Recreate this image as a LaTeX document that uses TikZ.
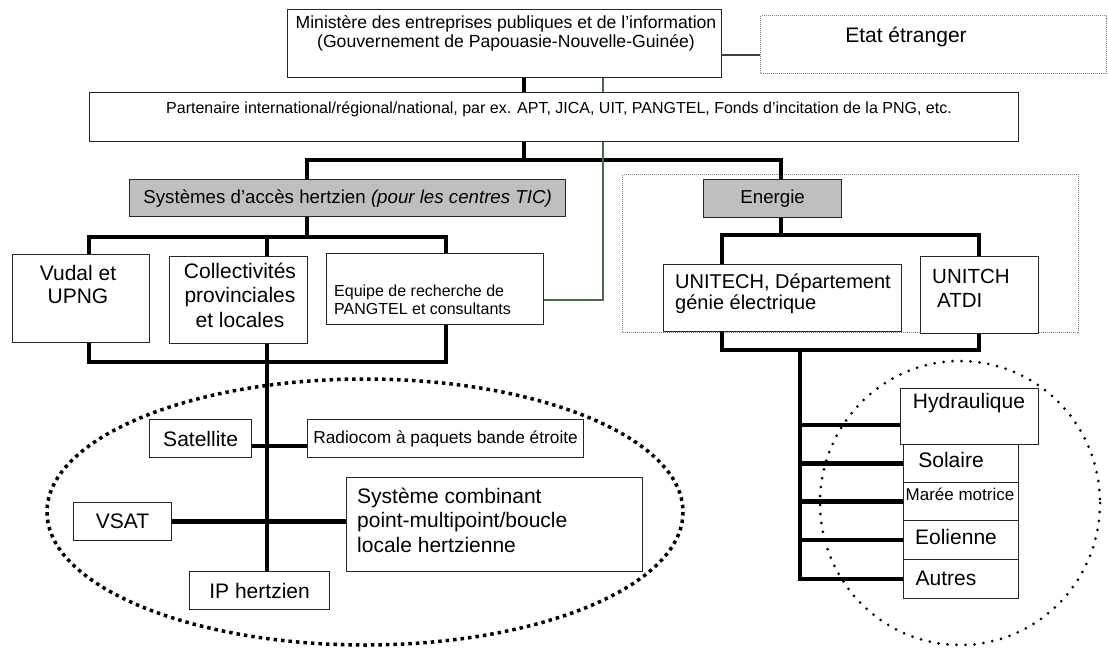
\documentclass[tikz,border=0pt]{standalone}
\usepackage{fontspec}
\setmainfont{Liberation Sans}
\usetikzlibrary{calc}

\definecolor{infogreen}{RGB}{70,110,70}
\newcommand{\fs}[2]{\fontsize{#1}{#2}\selectfont}

\begin{document}
\begin{tikzpicture}[x=1pt, y=-1pt,
    box/.style={draw=black!85, fill=white, line width=1.2pt, anchor=north west, inner sep=0pt, font=\fs{21}{24}},
    greybox/.style={box, fill=black!25, font=\fs{18.7}{22}},
    zone/.style={draw=black!50, line width=1pt, densely dotted, anchor=north west, inner sep=0pt},
    txt/.style={inner sep=0pt, anchor=base, font=\fs{21}{24}},
    trunk/.style={line width=4.5pt},
    link/.style={draw=black!75, line width=1.3pt},
    info/.style={draw=infogreen, line width=1.2pt},
    squaredots/.style={line width=3.5pt, dash pattern=on 3.5pt off 4pt},
    rounddots/.style={line width=3pt, line cap=round, dash pattern=on 0pt off 9pt}]

    \useasboundingbox (0,0) rectangle (1108,648);

    % zones
    \node[zone, minimum width=456, minimum height=158] (zone) at (622,174) {};
    \draw[squaredots] (365,512) ellipse [x radius=318, y radius=133];
    \draw[rounddots] (960,503) ellipse [x radius=140, y radius=142];

    % boxes
    \node[box, minimum width=434, minimum height=68] (ministere) at (287,9) {};
    \node[box, draw=black!50, line width=1pt, densely dotted, minimum width=346, minimum height=58] (etat) at (760,15) {};
    \node[box, minimum width=929, minimum height=49] (partenaire) at (89,92) {};
    \node[greybox, minimum width=436, minimum height=37] (systemes) at (129,179) {Systèmes d’accès hertzien \textit{(pour les centres TIC)}};
    \node[greybox, minimum width=138, minimum height=38] (energie) at (703,179) {Energie};

    \node[box, minimum width=137, minimum height=88] (vudal) at (12,254) {};
    \node[box, minimum width=138, minimum height=87] (collectivites) at (169,256) {};
    \node[box, minimum width=217, minimum height=71] (equipe) at (326,253) {};
    \node[box, minimum width=238, minimum height=67] (unitech) at (663,264) {};
    \node[box, minimum width=118, minimum height=77] (atdi) at (920,256) {};

    \node[box, minimum width=102, minimum height=38] (satellite) at (149,419) {Satellite};
    \node[box, minimum width=276, minimum height=38, font=\fs{17.3}{20}] (radiocom) at (307,419) {Radiocom à paquets bande étroite};
    \node[box, minimum width=98, minimum height=38] (vsat) at (73,502) {VSAT};
    \node[box, minimum width=296, minimum height=94] (combinant) at (346,477) {};
    \node[box, minimum width=140, minimum height=38] (iphertzien) at (189,571) {IP hertzien};

    \node[box, minimum width=138, minimum height=56] (hydraulique) at (900,388) {};
    \node[box, minimum width=115, minimum height=38] (solaire) at (903,444) {};
    \node[box, minimum width=115, minimum height=38] (maree) at (903,482) {};
    \node[box, minimum width=115, minimum height=39] (eolienne) at (903,520) {};
    \node[box, minimum width=115, minimum height=39] (autres) at (903,559) {};

    % texts (multi-line: base = last line)
    \node[txt, align=center, font=\fs{17.6}{19}] (ministere-t) at (506,47) {Ministère des entreprises publiques et de l’information\\(Gouvernement de Papouasie-Nouvelle-Guinée)};
    \node[txt] (etat-t) at (906,42) {Etat étranger};
    \node[txt, font=\fs{16}{18}] (partenaire-t) at (559,113) {Partenaire international/régional/national, par ex. APT, JICA, UIT, PANGTEL, Fonds d’incitation de la PNG, etc.};
    \node[txt, align=center, font=\fs{21}{23}] (vudal-t) at (78,303) {Vudal et\\UPNG};
    \node[txt, align=center, font=\fs{21}{24.5}] (collectivites-t) at (240,327) {Collectivités\\provinciales\\et locales};
    \node[txt, anchor=base west, align=left, font=\fs{16}{18}] (equipe-t) at (334,314) {Equipe de recherche de\\PANGTEL et consultants};
    \node[txt, anchor=base west, align=left, font=\fs{20}{21}] (unitech-t) at (675,309) {UNITECH, Département\\génie électrique};
    \node[txt, anchor=base west, align=left, font=\fs{20.5}{24}] (atdi-t) at (932,307) {UNITCH\\\hspace*{5pt}ATDI};
    \node[txt, anchor=base west, align=left, font=\fs{21}{24.5}] (combinant-t) at (357,552) {Système combinant\\point-multipoint/boucle\\locale hertzienne};
    \node[txt] (hydraulique-t) at (969,408) {Hydraulique};
    \node[txt] (solaire-t) at (951,467) {Solaire};
    \node[txt, font=\fs{17}{20}] (maree-t) at (960,500) {Marée motrice};
    \node[txt] (eolienne-t) at (956,544) {Eolienne};
    \node[txt] (autres-t) at (946,585) {Autres};

    % connectors, top
    \coordinate (me) at (740,55);
    \coordinate (mp) at (524,160);
    \coordinate (g) at (603,300);
    \coordinate (bl) at (307,160);
    \coordinate (br) at (781,160);
    \draw[link] (ministere.east |- me) -- (etat.west |- me);
    \draw[trunk] (ministere.south -| mp) -- (partenaire.north -| mp);
    \draw[trunk] (partenaire.south -| mp) -- (mp);
    \draw[trunk] (systemes.north -| bl) -- (bl) -- (br) -- (energie.north -| br);
    \draw[info] (ministere.south -| g) -- (partenaire.north -| g);
    \draw[info] (partenaire.south -| g) -- (g) -- (equipe.east |- g);

    % connectors, left
    \coordinate (sl) at (89,237);
    \coordinate (sr) at (446,237);
    \coordinate (t) at (267,237);
    \coordinate (bll) at (89,362);
    \coordinate (blr) at (446,362);
    \coordinate (sat) at (267,446);
    \draw[trunk] (systemes.south -| bl) -- (bl |- sl);
    \draw[trunk] (vudal.north -| sl) -- (sl) -- (sr) -- (equipe.north -| sr);
    \draw[trunk] (collectivites.north -| t) -- (t);
    \draw[trunk] (vudal.south -| bll) -- (bll) -- (blr) -- (equipe.south -| blr);
    \draw[trunk] (collectivites.south -| t) -- (iphertzien.north -| t);
    \draw[trunk] (satellite.east |- sat) -- (radiocom.west |- sat);
    \draw[trunk] (vsat.east) -- (vsat.east -| combinant.west);

    % connectors, right
    \coordinate (el) at (722,235);
    \coordinate (er) at (979,235);
    \coordinate (ebl) at (722,350);
    \coordinate (ebr) at (979,350);
    \coordinate (et) at (800,350);
    \coordinate (hy) at (800,425);
    \draw[trunk] (energie.south -| br) -- (br |- el);
    \draw[trunk] (unitech.north -| el) -- (el) -- (er) -- (atdi.north -| er);
    \draw[trunk] (unitech.south -| ebl) -- (ebl) -- (ebr) -- (atdi.south -| ebr);
    \draw[trunk] (et) |- (autres.west);
    \draw[trunk] (hy) -- (hydraulique.west |- hy);
    \foreach \n in {solaire, maree, eolienne}
        \draw[trunk] (et |- \n.west) -- (\n.west);
\end{tikzpicture}
\end{document}
